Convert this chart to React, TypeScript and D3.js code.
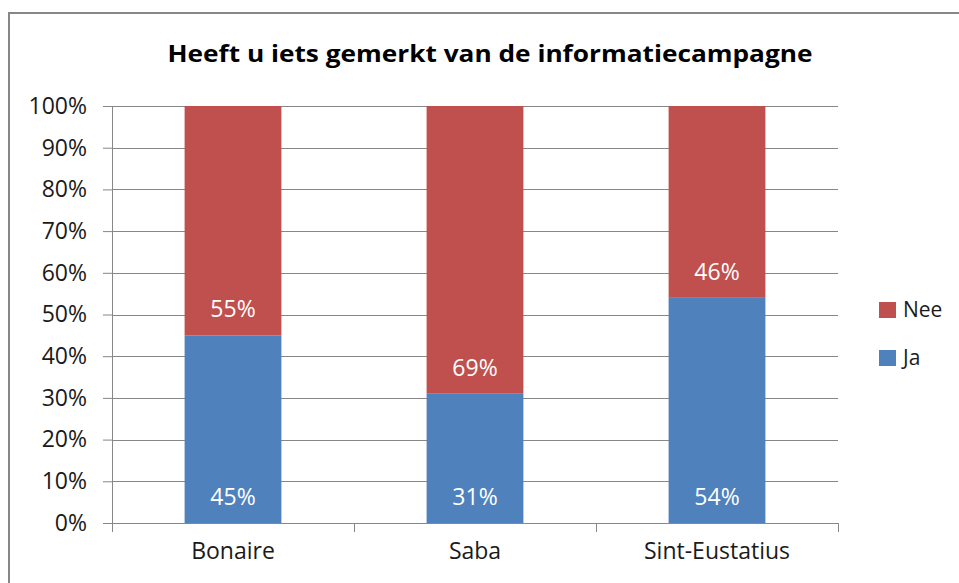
import React, { useEffect, useRef } from 'react';
import * as d3 from 'd3';

const categories = ['Bonaire', 'Saba', 'Sint-Eustatius'];
const ja = [45, 31, 54];
const nee = [55, 69, 46];
const yTicks = [0, 10, 20, 30, 40, 50, 60, 70, 80, 90, 100];
const seriesNames = ['Nee', 'Ja'];
const colors: Record<string, string> = { Ja: '#4f81bd', Nee: '#c0504d' };

const font = '"Open Sans", Lato, sans-serif';

export default function App() {
  const ref = useRef<SVGSVGElement>(null);

  useEffect(() => {
    document.body.style.margin = '0';
    const svg = d3.select(ref.current);
    svg.selectAll('*').remove();

    const width = 959;
    const height = 583;
    const margin = { top: 106, right: 121, bottom: 60, left: 112 };

    const x = d3.scaleBand<string>()
      .domain(categories)
      .range([margin.left, width - margin.right])
      .paddingInner(0.6)
      .paddingOuter(0.3);

    const y = d3.scaleLinear()
      .domain([0, 100])
      .range([height - margin.bottom, margin.top]);

    // outer frame
    svg.append('rect')
      .attr('x', 9).attr('y', 13)
      .attr('width', width + 10).attr('height', height + 10)
      .attr('fill', 'white')
      .attr('stroke', '#878787')
      .attr('stroke-width', 2);

    const title = svg.append('text')
      .attr('x', 490).attr('y', 62)
      .attr('text-anchor', 'middle')
      .attr('font-family', font)
      .attr('font-weight', 'bold')
      .attr('font-size', 24)
      .attr('fill', '#000')
      .text('Heeft u iets gemerkt van de informatiecampagne');
    // squeeze/stretch to the width seen in the original
    const tl = (title.node() as SVGTextElement).getComputedTextLength();
    if (Math.abs(tl - 645) > 10) title.attr('textLength', 645).attr('lengthAdjust', 'spacingAndGlyphs');

    // gridlines + y axis
    const yAxis = svg.append('g')
      .attr('transform', `translate(${margin.left},0)`)
      .call(d3.axisLeft(y).tickValues(yTicks).tickSize(9).tickPadding(16).tickFormat(d => `${d}%`));
    yAxis.select('.domain').attr('stroke', '#878787');
    yAxis.selectAll('line').attr('stroke', '#878787');
    yAxis.selectAll('text')
      .attr('font-family', font)
      .attr('font-size', 23)
      .attr('fill', '#1a1a1a');

    svg.append('g')
      .selectAll('line')
      .data(yTicks)
      .join('line')
      .attr('x1', margin.left).attr('x2', width - margin.right)
      .attr('y1', d => Math.round(y(d)) + 0.5).attr('y2', d => Math.round(y(d)) + 0.5)
      .attr('stroke', '#878787');

    // stacked bars
    const rows = categories.map((c, i) => ({ cat: c, Ja: ja[i], Nee: nee[i] }));
    const stack = d3.stack<any>().keys(['Ja', 'Nee'])(rows);

    stack.forEach(layer => {
      const g = svg.append('g');
      g.selectAll('rect')
        .data(layer)
        .join('rect')
        .attr('x', d => x(d.data.cat)!)
        .attr('width', x.bandwidth())
        .attr('y', d => y(d[1]))
        .attr('height', d => y(d[0]) - y(d[1]))
        .attr('fill', colors[layer.key]);
      g.selectAll('text')
        .data(layer)
        .join('text')
        .attr('x', d => x(d.data.cat)! + x.bandwidth() / 2)
        .attr('y', d => y(d[0]) - 18)
        .attr('text-anchor', 'middle')
        .attr('font-family', font)
        .attr('font-size', 23)
        .attr('fill', 'white')
        .text(d => `${d.data[layer.key]}%`);
    });

    // x axis
    const xAxis = svg.append('g')
      .attr('transform', `translate(0,${y(0)})`)
      .call(d3.axisBottom(x).tickSize(0).tickPadding(20));
    xAxis.select('.domain').attr('stroke', '#878787');
    xAxis.selectAll('text')
      .attr('font-family', font)
      .attr('font-size', 23)
      .attr('fill', '#1a1a1a');
    const step = x.step();
    svg.append('g')
      .selectAll('line')
      .data(d3.range(categories.length + 1))
      .join('line')
      .attr('x1', i => margin.left + i * step + 0.5)
      .attr('x2', i => margin.left + i * step + 0.5)
      .attr('y1', y(0)).attr('y2', y(0) + 9)
      .attr('stroke', '#878787');

    // legend
    const legend = svg.append('g').attr('transform', 'translate(879,302)');
    seriesNames.forEach((s, i) => {
      legend.append('rect')
        .attr('x', 0).attr('y', i * 48)
        .attr('width', 17).attr('height', 16)
        .attr('fill', colors[s]);
      legend.append('text')
        .attr('x', 24).attr('y', i * 48 + 15)
        .attr('font-family', font)
        .attr('font-size', 21)
        .attr('fill', '#1a1a1a')
        .text(s);
    });
  }, []);

  return <svg ref={ref} width={959} height={583} style={{ display: 'block' }} />;
}
